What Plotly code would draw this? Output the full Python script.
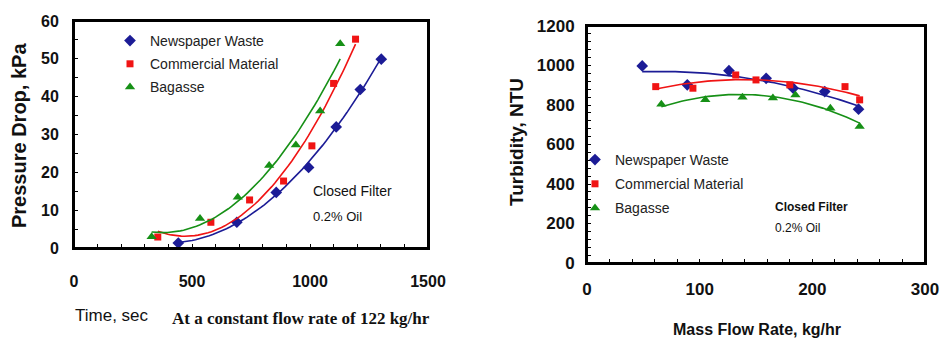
import numpy as np
import plotly.graph_objects as go

# ---------------- data ----------------
series_names = ["Newspaper Waste", "Commercial Material", "Bagasse"]

# Left chart: pressure drop vs time
news_time = [442, 690, 857, 994, 1111, 1213, 1302]
news_dp = [1.3, 6.8, 14.7, 21.3, 32.0, 41.9, 49.9]
comm_time = [355, 580, 744, 888, 1008, 1100, 1193]
comm_dp = [2.9, 6.8, 12.7, 17.7, 27.0, 43.5, 55.2]
bag_time = [329, 534, 694, 827, 940, 1043, 1128]
bag_dp = [3.0, 7.8, 13.4, 21.8, 27.2, 36.2, 54.0]

# Right chart: turbidity vs mass flow rate
news_flow = [49, 89, 126, 159, 183, 211, 241]
news_ntu = [998, 902, 974, 935, 885, 868, 779]
comm_flow = [61, 94, 132, 150, 180, 229, 242]
comm_ntu = [893, 885, 952, 927, 902, 893, 826]
bag_flow = [66, 105, 138, 165, 185, 216, 242]
bag_ntu = [804, 826, 839, 836, 851, 784, 691]

left_xticks = [0, 500, 1000, 1500]
left_yticks = [0, 10, 20, 30, 40, 50, 60]
right_xticks = [0, 100, 200, 300]
right_yticks = [0, 200, 400, 600, 800, 1000, 1200]

colors = ["#1c1c96", "#f01414", "#169016"]
symbols = ["diamond", "square", "triangle-up"]
sizes = [9, 7, 9]

W, H = 942, 338


def px(v):
    return v / W


def py(v):
    return 1 - v / H


def fit(x, y, deg=2):
    c = np.polyfit(x, y, deg)
    xs = np.linspace(min(x), max(x), 60)
    return xs, np.polyval(c, xs)


def tick_marks(labels, step):
    """Tick marks every `step`, text only at the labelled values."""
    vals = list(np.arange(labels[0], labels[-1] + step / 2, step))
    text = ["<b>%g</b>" % v if any(abs(v - l) < 1e-9 for l in labels) else "" for v in vals]
    return vals, text


fig = go.Figure()
left = [(news_time, news_dp), (comm_time, comm_dp), (bag_time, bag_dp)]
right = [(news_flow, news_ntu), (comm_flow, comm_ntu), (bag_flow, bag_ntu)]

for i, (x, y) in enumerate(left):
    xs, ys = fit(x, y)
    fig.add_trace(go.Scatter(x=xs, y=ys, mode="lines", line=dict(color=colors[i], width=1.6),
                             showlegend=False, xaxis="x", yaxis="y", hoverinfo="skip"))
    fig.add_trace(go.Scatter(x=x, y=y, mode="markers", name=series_names[i],
                             marker=dict(color=colors[i], symbol=symbols[i], size=sizes[i]),
                             xaxis="x", yaxis="y", legend="legend", legendgroup="l%d" % i))
for i, (x, y) in enumerate(right):
    xs, ys = fit(x, y)
    fig.add_trace(go.Scatter(x=xs, y=ys, mode="lines", line=dict(color=colors[i], width=1.6),
                             showlegend=False, xaxis="x2", yaxis="y2", hoverinfo="skip"))
    fig.add_trace(go.Scatter(x=x, y=y, mode="markers", name=series_names[i],
                             marker=dict(color=colors[i], symbol=symbols[i], size=sizes[i]),
                             xaxis="x2", yaxis="y2", legend="legend2", legendgroup="r%d" % i))

tickfont_l = dict(family="Arial, Liberation Sans", size=16, color="#111")
tickfont_r = dict(family="Arial, Liberation Sans", size=17, color="#111")

axis_common = dict(showline=True, linecolor="black", linewidth=2, mirror=True,
                   showgrid=False, zeroline=False, ticks="inside", tickcolor="black",
                   ticklen=4, tickwidth=1, automargin=False, tickmode="array")

lx_v, lx_t = tick_marks(left_xticks, 100)
ly_v, ly_t = tick_marks(left_yticks, 5)
rx_v, rx_t = tick_marks(right_xticks, 20)
ry_v, ry_t = tick_marks(right_yticks, 40)

frame = dict(type="rect", x0=0, x1=1, y0=0, y1=1, layer="above",
             line=dict(color="black", width=2), fillcolor="rgba(0,0,0,0)")

fig.update_layout(
    width=W, height=H,
    margin=dict(l=0, r=0, t=0, b=0),
    paper_bgcolor="white", plot_bgcolor="white",
    xaxis=dict(domain=[px(74), px(428)], range=[0, 1500], tickvals=lx_v, ticktext=lx_t,
               tickfont=tickfont_l, ticklabelstandoff=18, anchor="y", **axis_common),
    yaxis=dict(domain=[py(248), py(21)], range=[0, 60], tickvals=ly_v, ticktext=ly_t,
               tickfont=tickfont_l, ticklabelstandoff=10, anchor="x", **axis_common),
    xaxis2=dict(domain=[px(587), px(925)], range=[0, 300], tickvals=rx_v, ticktext=rx_t,
                tickfont=tickfont_r, ticklabelstandoff=10, anchor="y2", **axis_common),
    yaxis2=dict(domain=[py(263), py(26)], range=[0, 1200], tickvals=ry_v, ticktext=ry_t,
                tickfont=tickfont_r, ticklabelstandoff=7, anchor="x2", **axis_common),
    legend=dict(x=px(110), y=py(25), xanchor="left", yanchor="top",
                font=dict(family="Arial, Liberation Sans", size=14, color="#222"),
                bgcolor="rgba(0,0,0,0)", traceorder="grouped", tracegroupgap=2, itemwidth=30),
    legend2=dict(x=px(575), y=py(144), xanchor="left", yanchor="top",
                 font=dict(family="Arial, Liberation Sans", size=14, color="#222"),
                 bgcolor="rgba(0,0,0,0)", traceorder="grouped", tracegroupgap=3, itemwidth=30),
    showlegend=True,
    shapes=[dict(frame, xref="x domain", yref="y domain"),
            dict(frame, xref="x2 domain", yref="y2 domain")],
)


def note(text, x, y, size, family="Arial, Liberation Sans", xanchor="left", angle=0):
    return dict(text=text, x=px(x), y=py(y), xref="paper", yref="paper",
                xanchor=xanchor, yanchor="middle", textangle=angle, showarrow=False,
                font=dict(family=family, size=size, color="#111"))


ann = [
    note("<b>Pressure Drop, kPa</b>", 19, 136, 20, xanchor="center", angle=-90),
    note("Time, sec", 73, 315, 17),
    note("<b>At a constant flow rate of 122 kg/hr</b>", 170, 318, 17,
         family="Times New Roman, Liberation Serif"),
    note("<b>Turbidity, NTU</b>", 517, 142, 19, xanchor="center", angle=-90),
    note("<b>Mass Flow Rate, kg/hr</b>", 757, 329, 16, xanchor="center"),
    note("Closed Filter", 311, 191, 14),
    note("0.2% Oil", 311, 216, 13),
    note("<b>Closed Filter</b>", 773, 207, 12),
    note("0.2% Oil", 773, 228, 12),
]
fig.update_layout(annotations=ann)

fig.write_html("out.html", config={"displayModeBar": False},
               post_script="document.body.style.margin='0';")
